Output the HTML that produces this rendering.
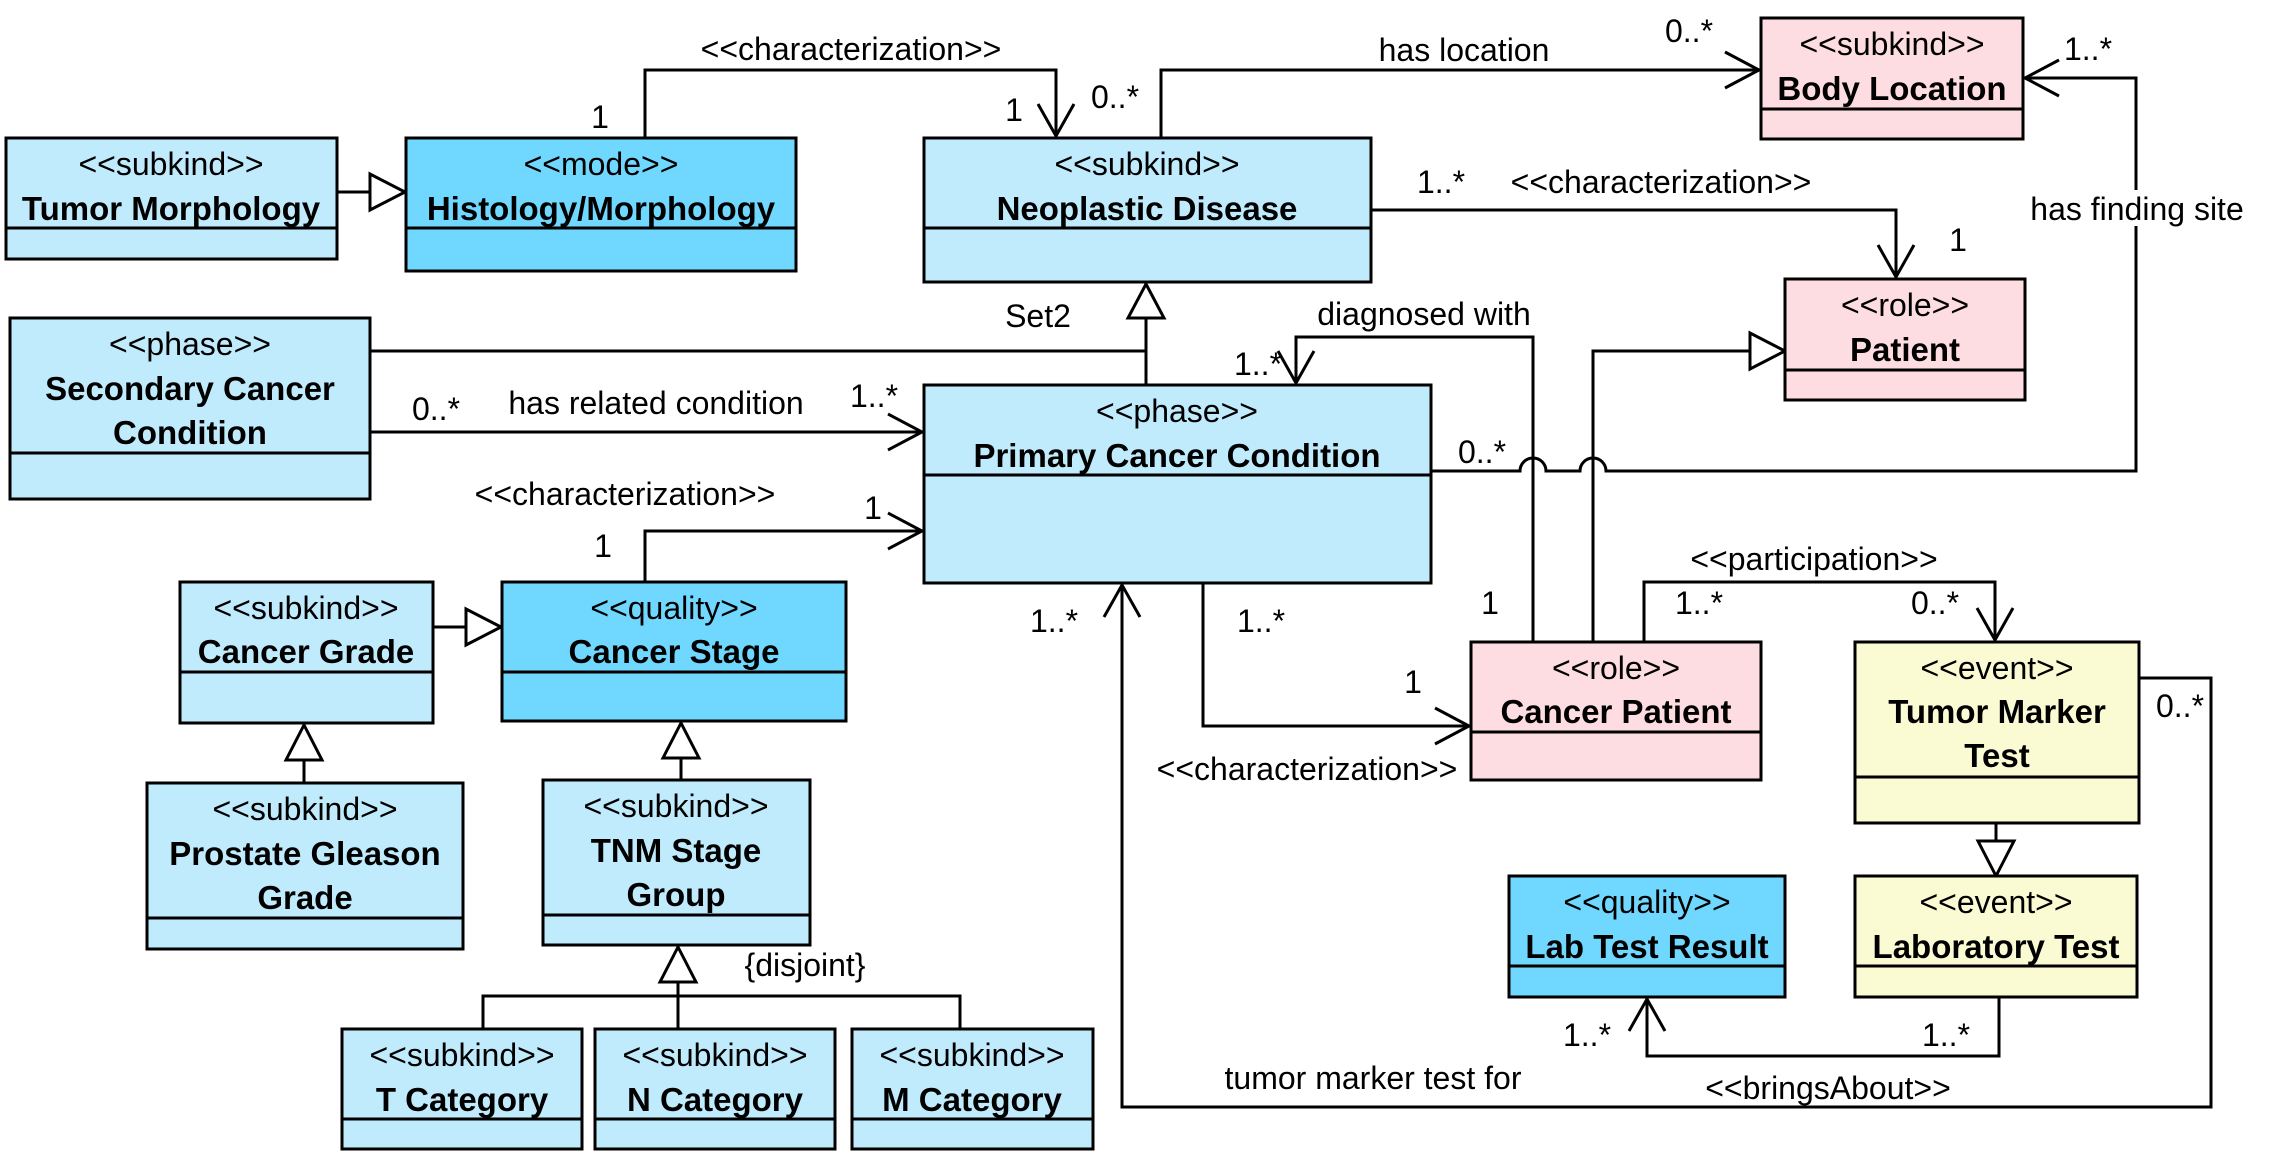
<!DOCTYPE html>
<html><head><meta charset="utf-8"><style>
html,body{margin:0;padding:0;background:#fff;}
svg{display:block;}
text{font-family:"Liberation Sans",Arial,sans-serif;font-size:32px;fill:#000;}
.b{font-weight:bold;font-size:33px;}
.m{text-anchor:middle;}
</style></head><body>
<svg width="2295" height="1161" viewBox="0 0 2295 1161" xmlns="http://www.w3.org/2000/svg">
<g stroke="#000" stroke-width="3" fill="none">
<polyline points="645,138 645,70 1056,70 1056,136"/>
<polyline points="1038,104 1056,136 1074,104"/>
<polyline points="1161,138 1161,70 1759,70"/>
<polyline points="1725,52 1759,70 1725,88"/>
<path d="M1431 471 H1520 A13 13 0 0 1 1546 471 H1580 A13 13 0 0 1 1606 471 H2136 V78 H2025"/>
<polyline points="2059,60 2025,78 2059,96"/>
<polyline points="1371,210 1896,210 1896,277"/>
<polyline points="1878,245 1896,277 1914,245"/>
<line x1="1146" y1="385" x2="1146" y2="318"/>
<polygon points="1128,318 1164,318 1146,284" fill="#fff"/>
<line x1="370" y1="351" x2="1146" y2="351"/>
<line x1="370" y1="432" x2="922" y2="432"/>
<polyline points="888,414 922,432 888,450"/>
<polyline points="645,582 645,531 922,531"/>
<polyline points="888,513 922,531 888,549"/>
<line x1="337" y1="192" x2="370" y2="192"/>
<polygon points="370,174 370,210 405,192" fill="#fff"/>
<line x1="433" y1="627" x2="466" y2="627"/>
<polygon points="466,609 466,645 501,627" fill="#fff"/>
<line x1="304" y1="783" x2="304" y2="760"/>
<polygon points="286,760 322,760 304,725" fill="#fff"/>
<line x1="681" y1="780" x2="681" y2="758"/>
<polygon points="663,758 699,758 681,723" fill="#fff"/>
<polyline points="483,1029 483,996 960,996 960,1029"/>
<line x1="678" y1="996" x2="678" y2="1029"/>
<line x1="678" y1="996" x2="678" y2="982"/>
<polygon points="660,982 696,982 678,947" fill="#fff"/>
<polyline points="1533,642 1533,337 1296,337 1296,383"/>
<polyline points="1278,351 1296,383 1314,351"/>
<polyline points="1593,642 1593,351 1750,351"/>
<polygon points="1750,333 1750,369 1785,351" fill="#fff"/>
<polyline points="1644,642 1644,582 1995,582 1995,640"/>
<polyline points="1977,608 1995,640 2013,608"/>
<polyline points="1203,583 1203,726 1469,726"/>
<polyline points="1435,708 1469,726 1435,744"/>
<line x1="1996" y1="823" x2="1996" y2="841"/>
<polygon points="1978,841 2014,841 1996,876" fill="#fff"/>
<polyline points="1999,997 1999,1056 1647,1056 1647,999"/>
<polyline points="1629,1031 1647,999 1665,1031"/>
<polyline points="2139,678 2211,678 2211,1107 1122,1107 1122,585"/>
<polyline points="1104,617 1122,585 1140,617"/>
</g>
<g stroke="#000" stroke-width="3">
<rect x="6" y="138" width="331" height="121" fill="#C0EBFD"/><line x1="6" y1="228" x2="337" y2="228"/>
<rect x="406" y="138" width="390" height="133" fill="#70D7FF"/><line x1="406" y1="228" x2="796" y2="228"/>
<rect x="924" y="138" width="447" height="144" fill="#C0EBFD"/><line x1="924" y1="228" x2="1371" y2="228"/>
<rect x="10" y="318" width="360" height="181" fill="#C0EBFD"/><line x1="10" y1="453" x2="370" y2="453"/>
<rect x="924" y="385" width="507" height="198" fill="#C0EBFD"/><line x1="924" y1="475" x2="1431" y2="475"/>
<rect x="1761" y="18" width="262" height="121" fill="#FDDDE1"/><line x1="1761" y1="109" x2="2023" y2="109"/>
<rect x="1785" y="279" width="240" height="121" fill="#FDDDE1"/><line x1="1785" y1="370" x2="2025" y2="370"/>
<rect x="180" y="582" width="253" height="141" fill="#C0EBFD"/><line x1="180" y1="672" x2="433" y2="672"/>
<rect x="502" y="582" width="344" height="139" fill="#70D7FF"/><line x1="502" y1="672" x2="846" y2="672"/>
<rect x="147" y="783" width="316" height="166" fill="#C0EBFD"/><line x1="147" y1="918" x2="463" y2="918"/>
<rect x="543" y="780" width="267" height="165" fill="#C0EBFD"/><line x1="543" y1="915" x2="810" y2="915"/>
<rect x="342" y="1029" width="240" height="120" fill="#C0EBFD"/><line x1="342" y1="1119" x2="582" y2="1119"/>
<rect x="595" y="1029" width="240" height="120" fill="#C0EBFD"/><line x1="595" y1="1119" x2="835" y2="1119"/>
<rect x="852" y="1029" width="241" height="120" fill="#C0EBFD"/><line x1="852" y1="1119" x2="1093" y2="1119"/>
<rect x="1471" y="642" width="290" height="138" fill="#FDDDE1"/><line x1="1471" y1="732" x2="1761" y2="732"/>
<rect x="1855" y="642" width="284" height="181" fill="#FAFAD3"/><line x1="1855" y1="777" x2="2139" y2="777"/>
<rect x="1509" y="876" width="276" height="121" fill="#70D7FF"/><line x1="1509" y1="966" x2="1785" y2="966"/>
<rect x="1855" y="876" width="282" height="121" fill="#FAFAD3"/><line x1="1855" y1="966" x2="2137" y2="966"/>
</g>
<g>
<text class="m" x="171" y="175">&lt;&lt;subkind&gt;&gt;</text><text class="m b" x="171" y="220">Tumor Morphology</text>
<text class="m" x="601" y="175">&lt;&lt;mode&gt;&gt;</text><text class="m b" x="601" y="220">Histology/Morphology</text>
<text class="m" x="1147" y="175">&lt;&lt;subkind&gt;&gt;</text><text class="m b" x="1147" y="220">Neoplastic Disease</text>
<text class="m" x="190" y="355">&lt;&lt;phase&gt;&gt;</text><text class="m b" x="190" y="400">Secondary Cancer</text><text class="m b" x="190" y="444">Condition</text>
<text class="m" x="1177" y="422">&lt;&lt;phase&gt;&gt;</text><text class="m b" x="1177" y="467">Primary Cancer Condition</text>
<text class="m" x="1892" y="55">&lt;&lt;subkind&gt;&gt;</text><text class="m b" x="1892" y="100">Body Location</text>
<text class="m" x="1905" y="316">&lt;&lt;role&gt;&gt;</text><text class="m b" x="1905" y="361">Patient</text>
<text class="m" x="306" y="619">&lt;&lt;subkind&gt;&gt;</text><text class="m b" x="306" y="663">Cancer Grade</text>
<text class="m" x="674" y="619">&lt;&lt;quality&gt;&gt;</text><text class="m b" x="674" y="663">Cancer Stage</text>
<text class="m" x="305" y="820">&lt;&lt;subkind&gt;&gt;</text><text class="m b" x="305" y="865">Prostate Gleason</text><text class="m b" x="305" y="909">Grade</text>
<text class="m" x="676" y="817">&lt;&lt;subkind&gt;&gt;</text><text class="m b" x="676" y="862">TNM Stage</text><text class="m b" x="676" y="906">Group</text>
<text class="m" x="462" y="1066">&lt;&lt;subkind&gt;&gt;</text><text class="m b" x="462" y="1111">T Category</text>
<text class="m" x="715" y="1066">&lt;&lt;subkind&gt;&gt;</text><text class="m b" x="715" y="1111">N Category</text>
<text class="m" x="972" y="1066">&lt;&lt;subkind&gt;&gt;</text><text class="m b" x="972" y="1111">M Category</text>
<text class="m" x="1616" y="679">&lt;&lt;role&gt;&gt;</text><text class="m b" x="1616" y="723">Cancer Patient</text>
<text class="m" x="1997" y="679">&lt;&lt;event&gt;&gt;</text><text class="m b" x="1997" y="723">Tumor Marker</text><text class="m b" x="1997" y="767">Test</text>
<text class="m" x="1647" y="913">&lt;&lt;quality&gt;&gt;</text><text class="m b" x="1647" y="958">Lab Test Result</text>
<text class="m" x="1996" y="913">&lt;&lt;event&gt;&gt;</text><text class="m b" x="1996" y="958">Laboratory Test</text>
</g>
<text class="m" x="851" y="60">&lt;&lt;characterization&gt;&gt;</text>
<text class="m" x="600" y="128">1</text>
<text class="m" x="1014" y="121">1</text>
<text class="m" x="1115" y="108">0..*</text>
<text class="m" x="1464" y="61">has location</text>
<text class="m" x="1689" y="42">0..*</text>
<text class="m" x="2088" y="60">1..*</text>
<rect x="2045" y="190" width="185" height="36" fill="#fff"/>
<text class="m" x="2137" y="220">has finding site</text>
<text class="m" x="1482" y="463">0..*</text>
<text class="m" x="1441" y="193">1..*</text>
<text class="m" x="1661" y="193">&lt;&lt;characterization&gt;&gt;</text>
<text class="m" x="1958" y="251">1</text>
<text class="m" x="1038" y="327">Set2</text>
<text class="m" x="436" y="420">0..*</text>
<text class="m" x="656" y="414">has related condition</text>
<text class="m" x="874" y="407">1..*</text>
<text class="m" x="625" y="505">&lt;&lt;characterization&gt;&gt;</text>
<text class="m" x="603" y="557">1</text>
<text class="m" x="873" y="519">1</text>
<text class="m" x="805" y="976">{disjoint}</text>
<text class="m" x="1424" y="325">diagnosed with</text>
<text class="m" x="1258" y="375">1..*</text>
<text class="m" x="1490" y="614">1</text>
<text class="m" x="1814" y="570">&lt;&lt;participation&gt;&gt;</text>
<text class="m" x="1699" y="614">1..*</text>
<text class="m" x="1935" y="614">0..*</text>
<text class="m" x="1261" y="632">1..*</text>
<text class="m" x="1413" y="693">1</text>
<text class="m" x="1307" y="780">&lt;&lt;characterization&gt;&gt;</text>
<text class="m" x="1587" y="1046">1..*</text>
<text class="m" x="1946" y="1046">1..*</text>
<rect x="1700" y="1083" width="260" height="22" fill="#fff"/>
<text class="m" x="1828" y="1099">&lt;&lt;bringsAbout&gt;&gt;</text>
<text class="m" x="2180" y="717">0..*</text>
<text class="m" x="1054" y="632">1..*</text>
<text class="m" x="1373" y="1089">tumor marker test for</text>
</svg>
</body></html>
